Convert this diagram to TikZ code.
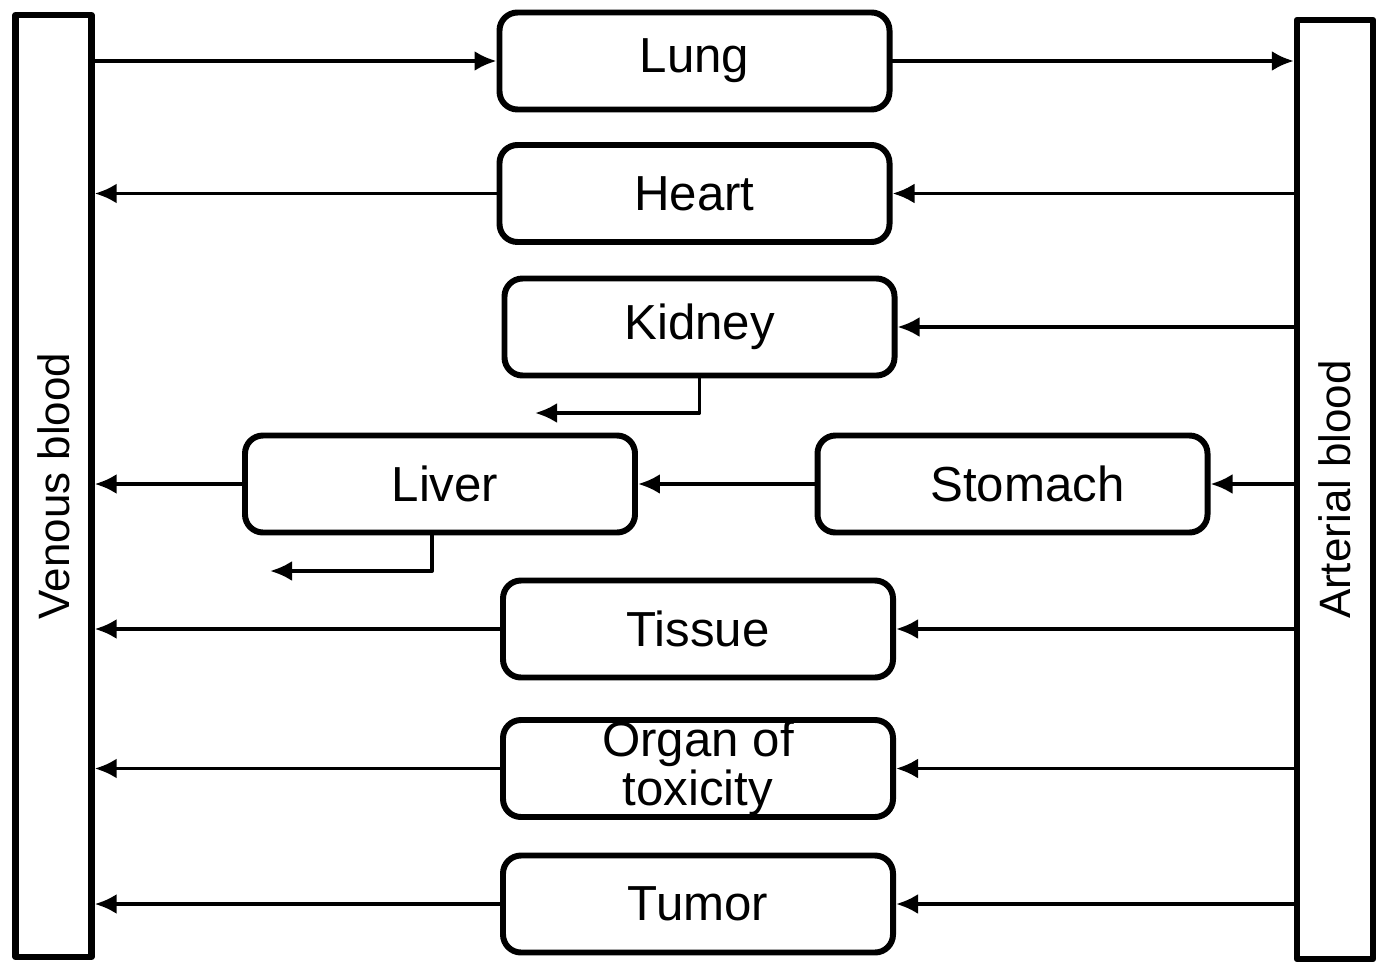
\documentclass[tikz,border=0pt]{standalone}
\usepackage{fontspec}
\setmainfont{Liberation Sans}
\usetikzlibrary{arrows.meta}
\begin{document}
\begin{tikzpicture}[font=\fontsize{14}{12}\selectfont, line join=round, line cap=round, >={Latex[length=2.2mm,width=2mm]},
	organ/.style={draw, line width=1.7pt, rounded corners=1.8mm, minimum width=3.9cm, minimum height=0.97cm, align=center, inner sep=0pt},
	blood/.style={draw, line width=1.8pt, minimum width=0.76cm, inner sep=0pt, font=\fontsize{12.5}{12}\selectfont},
	flow/.style={->, line width=1.1pt}]
	\useasboundingbox (0,0) rectangle (13.83,-9.73);
	% blood pools
	\node[blood, minimum height=9.42cm] (venous) at (0.535,-4.86) {\rotatebox{90}{Venous blood}};
	\node[blood, minimum height=9.39cm] (arterial) at (13.35,-4.895) {\rotatebox{90}{Arterial blood}};
	% organs
	\node[organ] (lung) at (6.945,-0.61) {Lung};
	\node[organ] (heart) at (6.945,-1.935) {Heart};
	\node[organ] (kidney) at (6.995,-3.27) {Kidney};
	\node[organ] (liver) at (4.40,-4.84) {\hspace{0.1cm}Liver};
	\node[organ] (stomach) at (10.125,-4.84) {\hspace{0.3cm}Stomach};
	\node[organ] (tissue) at (6.98,-6.29) {Tissue};
	\node[organ] (toxic) at (6.98,-7.685) {Organ of\\toxicity};
	\node[organ] (tumor) at (6.98,-9.04) {Tumor};
	\coordinate (kidneyout) at (5.35,-4.13);
	\coordinate (liverout) at (2.70,-5.71);
	% flows
	\draw[flow] (venous.east |- lung.west) -- (lung.west);
	\draw[flow] (lung.east) -- (lung.east -| arterial.west);
	\foreach \o in {heart,kidney,stomach,tissue,toxic,tumor}
		\draw[flow] (\o.east -| arterial.west) -- (\o.east);
	\foreach \o in {heart,liver,tissue,toxic,tumor}
		\draw[flow] (\o.west) -- (\o.west -| venous.east);
	\draw[flow] (stomach.west) -- (liver.east);
	\draw[flow] (kidney.south) |- (kidneyout);
	\draw[flow] ([xshift=-0.08cm]liver.south) |- (liverout);
\end{tikzpicture}
\end{document}
